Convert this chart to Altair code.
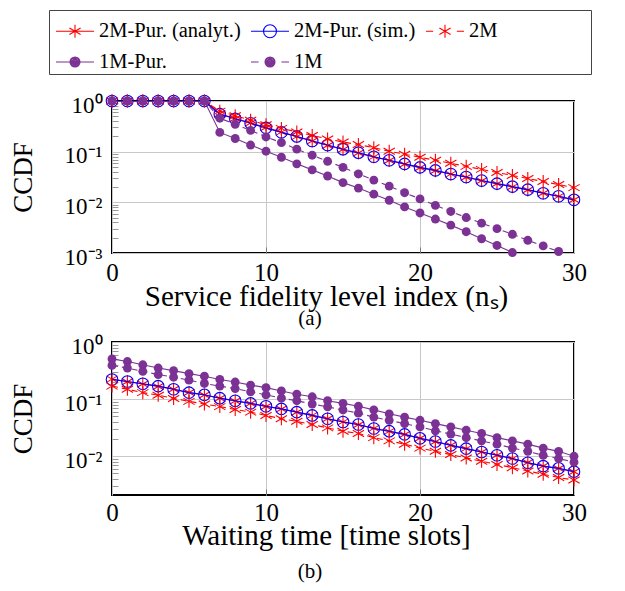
import altair as alt
import pandas as pd

# ---------------- data ----------------
N = [0, 1, 2, 3, 4, 5, 6, 7, 8, 9, 10, 11, 12, 13, 14, 15, 16, 17, 18, 19, 20,
     21, 22, 23, 24, 25, 26, 27, 28, 29, 30]

SERIES = ["2M-Pur. (analyt.)", "2M-Pur. (sim.)", "2M", "1M-Pur.", "1M"]

# panel (a): CCDF vs service fidelity level index
A_2M_PUR_ANALYT = [1.0, 1.0, 1.0, 1.0, 1.0, 1.0, 1.0, 0.560, 0.452, 0.367, 0.300, 0.243,
                   0.198, 0.162, 0.132, 0.110, 0.0937, 0.0790, 0.0668, 0.0566, 0.0482,
                   0.0420, 0.0360, 0.0312, 0.0267, 0.0232, 0.0202, 0.0175, 0.0151, 0.0131, 0.0112]
A_2M_PUR_SIM = [1.0, 1.0, 1.0, 1.0, 1.0, 1.0, 1.0, 0.550, 0.447, 0.363, 0.295, 0.240,
                0.200, 0.162, 0.135, 0.112, 0.0955, 0.0794, 0.0676, 0.0575, 0.0490,
                0.0427, 0.0363, 0.0316, 0.0269, 0.0234, 0.0204, 0.0178, 0.0151, 0.0132, 0.0112]
A_2M = [1.0, 1.0, 1.0, 1.0, 1.0, 1.0, 1.0, 0.631, 0.513, 0.417, 0.339, 0.288,
        0.245, 0.209, 0.178, 0.155, 0.138, 0.120, 0.102, 0.0891, 0.0776,
        0.0676, 0.0589, 0.0513, 0.0447, 0.0389, 0.0339, 0.0295, 0.0257, 0.0224, 0.0195]
A_1M_PUR = [1.0, 1.0, 1.0, 1.0, 1.0, 1.0, 1.0, 0.240, 0.182, 0.135, 0.102, 0.0776,
            0.0575, 0.0437, 0.0331, 0.0245, 0.0191, 0.0145, 0.0110, 0.00813, 0.00617,
            0.00468, 0.00355, 0.00263, 0.00191, 0.00141, 0.00102, 0.00076, 0.00056, 0.00042, 0.00031]
A_1M = [1.0, 1.0, 1.0, 1.0, 1.0, 1.0, 1.0, 0.457, 0.347, 0.263, 0.195, 0.151,
        0.112, 0.0851, 0.0646, 0.0490, 0.0363, 0.0275, 0.0209, 0.0155, 0.0117,
        0.00871, 0.00661, 0.00501, 0.00389, 0.00302, 0.00234, 0.00178, 0.00138, 0.00107, 0.00083]

# panel (b): CCDF vs waiting time
B_2M_PUR_ANALYT = [0.224, 0.202, 0.184, 0.167, 0.149, 0.131, 0.118, 0.104, 0.0930, 0.0840,
                   0.0745, 0.0670, 0.0590, 0.0520, 0.0455, 0.0400, 0.0357, 0.0308, 0.0273,
                   0.0240, 0.0207, 0.0180, 0.0156, 0.0136, 0.0119, 0.0104, 0.00910, 0.00775,
                   0.00675, 0.00610, 0.00535]
B_2M_PUR_SIM = [0.221, 0.204, 0.186, 0.169, 0.149, 0.130, 0.119, 0.104, 0.0938, 0.0843,
                0.0750, 0.0675, 0.0592, 0.0519, 0.0454, 0.0398, 0.0359, 0.0306, 0.0275,
                0.0242, 0.0206, 0.0181, 0.0155, 0.0136, 0.0119, 0.0104, 0.00912, 0.00769,
                0.00673, 0.00615, 0.00538]
B_2M = [0.169, 0.149, 0.130, 0.117, 0.103, 0.0914, 0.0822, 0.0740, 0.0658, 0.0592,
        0.0519, 0.0454, 0.0409, 0.0359, 0.0314, 0.0275, 0.0251, 0.0212, 0.0186,
        0.0163, 0.0139, 0.0122, 0.0107, 0.00935, 0.00820, 0.00719, 0.00631, 0.00553,
        0.00485, 0.00425, 0.00383]
B_1M_PUR = [0.506, 0.455, 0.399, 0.350, 0.315, 0.280, 0.252, 0.221, 0.199, 0.176,
            0.159, 0.139, 0.122, 0.110, 0.0938, 0.0843, 0.0750, 0.0649, 0.0553,
            0.0485, 0.0426, 0.0373, 0.0327, 0.0286, 0.0251, 0.0212, 0.0186, 0.0163,
            0.0139, 0.0122, 0.0100]
B_1M = [0.389, 0.350, 0.307, 0.269, 0.242, 0.215, 0.188, 0.169, 0.153, 0.134,
        0.119, 0.104, 0.0938, 0.0822, 0.0733, 0.0646, 0.0569, 0.0485, 0.0426,
        0.0373, 0.0327, 0.0279, 0.0245, 0.0212, 0.0186, 0.0163, 0.0139, 0.0122,
        0.0104, 0.00912, 0.00789]

X_TICKS = [0, 10, 20, 30]
X_INNER_TICKS = [10, 20]
A_Y_TICKS = [1, 0.1, 0.01, 0.001]
A_Y_LABELS = ["10\u2070", "10\u207b\u00b9", "10\u207b\u00b2", "10\u207b\u00b3"]
B_Y_TICKS = [1, 0.1, 0.01]
B_Y_LABELS = ["10\u2070", "10\u207b\u00b9", "10\u207b\u00b2"]
A_MINOR = [0.002, 0.003, 0.004, 0.005, 0.006, 0.007, 0.008, 0.009,
           0.02, 0.03, 0.04, 0.05, 0.06, 0.07, 0.08, 0.09,
           0.2, 0.3, 0.4, 0.5, 0.6, 0.7, 0.8, 0.9]
B_MINOR = [0.003, 0.004, 0.005, 0.006, 0.007, 0.008, 0.009,
           0.02, 0.03, 0.04, 0.05, 0.06, 0.07, 0.08, 0.09,
           0.2, 0.3, 0.4, 0.5, 0.6, 0.7, 0.8, 0.9]

# legend entry texts; the last entry of row one carries trailing no-break spaces
# (closed by a zero-width space so they are kept) so the frame spans the full width
LEGEND_LABELS = ["2M-Pur. (analyt.)", "2M-Pur. (sim.)",
                 "2M" + "\u00a0" * 18 + "\u200b", "1M-Pur.", "1M"]

# ---------------- style ----------------
SERIF = "Liberation Serif"
RED = "#ff0000"
BLUE = "#0000ff"
PURPLE = "#7b3294"
GRID = "#c8c8c8"
W = 462
LW = 1.1
STAR = "M0,-1L0,1M-0.866,-0.5L0.866,0.5M-0.866,0.5L0.866,-0.5"

STYLE = {
    "2M-Pur. (analyt.)": dict(color=RED, dash=None, marker="star"),
    "2M-Pur. (sim.)": dict(color=BLUE, dash=None, marker="circle"),
    "2M": dict(color=RED, dash=[6, 4], marker="star"),
    "1M-Pur.": dict(color=PURPLE, dash=None, marker="dot"),
    "1M": dict(color=PURPLE, dash=[6, 4], marker="dot"),
}

STAR_L = "M0,-0.34L0,0.34M-0.295,-0.17L0.295,0.17M-0.295,0.17L0.295,-0.17"
CIRC_L = "M-0.34,0A0.34,0.34,0,1,0,0.34,0A0.34,0.34,0,1,0,-0.34,0"


def ring(r):
    return "M-%g,0A%g,%g,0,1,0,%g,0A%g,%g,0,1,0,-%g,0" % (r, r, r, r, r, r, r)


DOT_L = "".join(ring(r) for r in [0.263, 0.21, 0.158, 0.105, 0.053, 0.012])
LEG_PATHS = [
    "M-1,0L1,0" + STAR_L,
    "M-1,0L1,0" + CIRC_L,
    "M-1,0L-0.62,0M0.62,0L1,0" + STAR_L,
    "M-1,0L1,0" + DOT_L,
    "M-1,0L-0.6,0M0.6,0L1,0" + DOT_L,
]
LEG_STROKES = [RED, BLUE, RED, PURPLE, PURPLE]


def label_expr(ticks, labels):
    expr = "'" + labels[-1] + "'"
    for t, lab in reversed(list(zip(ticks[:-1], labels[:-1]))):
        expr = "datum.value > " + str(t * 0.5) + " ? '" + lab + "' : " + expr
    return expr


def panel(vals, ymin, height, y_ticks, y_labels, minor, x_title, x_title_y,
          x_lab_pad, caption, cap_offset, with_legend):
    rows = []
    for name, vs in zip(SERIES, vals):
        for n, v in zip(N, vs):
            rows.append({"n": n, "v": v, "series": name})
    df = pd.DataFrame(rows)
    base = alt.Chart(df)
    xsc = alt.Scale(domain=[0, 30], nice=False, zero=False)
    ysc = alt.Scale(type="log", domain=[ymin, 1], nice=False)

    layers = []
    main_x = alt.Axis(values=X_TICKS, grid=True, gridColor=GRID, gridWidth=1,
                      ticks=False, tickSize=0, domain=False, format="d",
                      labelFont=SERIF, labelFontSize=25, labelColor="black",
                      labelBaseline="alphabetic", labelPadding=x_lab_pad,
                      labelFlush=False, labelOverlap=False,
                      title=x_title, titleFont=SERIF, titleFontSize=29,
                      titleFontWeight="normal", titleColor="black",
                      titleX=214, titleY=x_title_y, titleBaseline="alphabetic",
                      titleAlign="center")
    main_y = alt.Axis(values=y_ticks, grid=True, gridColor=GRID, gridWidth=1,
                      ticks=False, tickSize=0, domain=False,
                      labelExpr=label_expr(y_ticks, y_labels),
                      labelFont=SERIF, labelFontSize=23, labelColor="black",
                      labelBaseline="alphabetic", labelOffset=11, labelPadding=10,
                      labelFlush=False, labelOverlap=False, labelBound=False,
                      title="CCDF", titleFont=SERIF, titleFontSize=27,
                      titleFontWeight="normal", titleColor="black",
                      titleX=-81, titleBaseline="alphabetic", titleAngle=270)
    layers.append(base.transform_filter("false").mark_point(opacity=0).encode(
        x=alt.X("n:Q", scale=xsc, axis=main_x),
        y=alt.Y("v:Q", scale=ysc, axis=main_y)))
    inner_x = alt.Axis(orient="top", offset=-height, values=X_INNER_TICKS, labels=False,
                       domain=False, grid=False, ticks=True, tickSize=6,
                       tickColor="#777777", tickWidth=1, title=None)
    inner_y = alt.Axis(orient="right", offset=-W, values=minor, labels=False,
                       domain=False, grid=False, ticks=True, tickSize=6,
                       tickColor="#999999", tickWidth=1, title=None)
    layers.append(base.transform_filter("false").mark_point(opacity=0).encode(
        x=alt.X("n:Q", scale=xsc, axis=inner_x),
        y=alt.Y("v:Q", scale=ysc, axis=inner_y)))

    X = alt.X("n:Q", scale=xsc, axis=None)
    Y = alt.Y("v:Q", scale=ysc, axis=None)
    for name in SERIES:
        st = STYLE[name]
        line_kw = dict(color=st["color"], strokeWidth=LW, clip=True)
        if st["dash"]:
            line_kw["strokeDash"] = st["dash"]
        layers.append(base.transform_filter(alt.datum.series == name)
                      .mark_line(**line_kw).encode(x=X, y=Y))
        if st["marker"] == "star":
            pk = dict(shape=STAR, size=169, filled=False, color=st["color"],
                      strokeWidth=LW, opacity=1)
        elif st["marker"] == "circle":
            pk = dict(shape="circle", size=133, filled=False, color=st["color"],
                      strokeWidth=LW, opacity=1)
        else:
            pk = dict(shape="circle", size=79, filled=True, color=st["color"],
                      opacity=1)
        layers.append(base.transform_filter(
            (alt.datum.series == name) & (alt.datum.v >= ymin * 0.999))
            .mark_point(**pk).encode(x=X, y=Y))

    if with_legend:
        leg = alt.Legend(title=None, orient="none", legendX=-63, legendY=-91,
                         direction="horizontal", columns=3,
                         symbolSize=1444, symbolStrokeWidth=LW,
                         symbolOffset=5, symbolOpacity=1,
                         labelFont=SERIF, labelFontSize=20.5, labelColor="black",
                         labelOffset=4, labelLimit=600,
                         padding=1, rowPadding=-5, columnPadding=4,
                         strokeColor="#444444", fillColor="white")
        layers.append(base.transform_filter("false")
                      .mark_point(opacity=1, filled=False, strokeWidth=LW).encode(
            color=alt.Color("series:N",
                            scale=alt.Scale(domain=LEGEND_LABELS, range=LEG_STROKES),
                            legend=leg),
            shape=alt.Shape("series:N",
                            scale=alt.Scale(domain=LEGEND_LABELS, range=LEG_PATHS),
                            legend=leg),
        ))

    title = alt.TitleParams(caption, orient="bottom", anchor="middle", frame="group",
                            dx=-33, offset=cap_offset, baseline="alphabetic",
                            font=SERIF, fontSize=21, fontWeight="normal", color="black")
    return (alt.layer(*layers)
            .properties(width=W, height=height, title=title)
            .resolve_axis(x="independent", y="independent"))


top = panel([A_2M_PUR_ANALYT, A_2M_PUR_SIM, A_2M, A_1M_PUR, A_1M], 0.001, 152,
            A_Y_TICKS, A_Y_LABELS, A_MINOR,
            "Service fidelity level index (n\u209b)", 52, 27, "(a)", 14, True)
bottom = panel([B_2M_PUR_ANALYT, B_2M_PUR_SIM, B_2M, B_1M_PUR, B_1M], 0.0021, 153,
               B_Y_TICKS, B_Y_LABELS, B_MINOR,
               "Waiting time [time slots]", 49, 25, "(b)", 28, False)

chart = (alt.vconcat(top, bottom, spacing=4)
         .resolve_scale(x="independent", y="independent", shape="independent",
                        color="independent")
         .configure(font=SERIF)
         .configure_axis(labelFont=SERIF, titleFont=SERIF)
         .configure_legend(labelFont=SERIF, titleFont=SERIF)
         .configure_title(font=SERIF)
         .configure_view(stroke="black", strokeWidth=2)
         .properties(padding={"left": 0, "top": 0, "right": 0, "bottom": 0}))

chart.save("out.html", embed_options={"renderer": "svg", "actions": False})
